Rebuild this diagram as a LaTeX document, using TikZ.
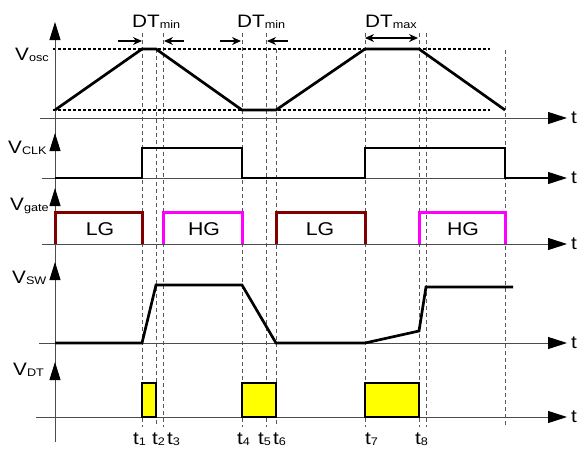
\documentclass[tikz,border=0pt]{standalone}
\usepackage{fontspec}
\setmainfont[FakeStretch=1.15]{Liberation Sans}
\usetikzlibrary{arrows.meta}
\definecolor{lgred}{RGB}{128,0,0}
\definecolor{hgmag}{RGB}{255,0,255}
\definecolor{dtyel}{RGB}{255,255,0}
\newcommand{\lbsub}[1]{\raisebox{-1.2pt}{\fontsize{11}{12}\selectfont #1}}
\begin{document}
\begin{tikzpicture}[x=1pt,y=-1pt,
  lbl/.style={inner sep=0pt, anchor=base west, font=\fontsize{18}{20}\selectfont},
  haxis/.style={line width=1pt, draw=black!70, -{Triangle[length=19pt,width=12pt,color=black]}},
  vaxhead/.style={line width=1pt, draw=black!70, -{Triangle[length=18pt,width=11pt,color=black]}},
  vdash/.style={draw=black!65, line width=0.9pt, dash pattern=on 4pt off 3pt},
  refline/.style={draw=black, line width=1.3pt, dash pattern=on 3pt off 2pt},
  sig/.style={draw=black, line width=2.7pt, line join=miter},
  lgbox/.style={draw=lgred, line width=3pt, line join=miter},
  hgbox/.style={draw=hgmag, line width=3pt, line join=miter},
  dtbox/.style={draw=black, fill=dtyel, line width=1.3pt},
  dimarrow/.style={draw=black, line width=1.3pt, -{Stealth[length=9pt,width=8pt]}},
  dimboth/.style={draw=black, line width=1.3pt, {Stealth[length=9pt,width=8pt]}-{Stealth[length=9pt,width=8pt]}}
]
\useasboundingbox (0,0) rectangle (579,450);

% vertical dashed time markers
\foreach \x/\y in {142/33,156/49,163/33,242/33,266/33,276/49,365/33,419/33,426/33,505/50}
  \draw[vdash] (\x,\y) -- (\x,427);

% Vosc reference levels
\draw[refline] (53,49) -- (490,49);
\draw[refline] (53,110) -- (490,110);

% vertical axis with arrowheads
\draw[vaxhead] (55,442) -- (55,22);
\foreach \tip in {133,188,262,362}
  \draw[vaxhead] (55,\tip+25) -- (55,\tip);

% horizontal axes
\draw[haxis] (40,118) -- (567,118);
\draw[haxis] (42,178) -- (567,178);
\draw[haxis] (42,244) -- (567,244);
\draw[haxis] (39,343) -- (567,343);
\draw[haxis] (36,417) -- (567,417);
\foreach \y [count=\i] in {118,178,244,343,417}
  \node[inner sep=0pt, anchor=west, font=\fontsize{18}{20}\selectfont] (tax\i) at (571,\y) {t};

% axis labels
\node[lbl] (losc) at (15,60) {V\lbsub{osc}};
\node[lbl] (lclk) at (8,153) {V\lbsub{CLK}};
\node[lbl] (lgate) at (10,210) {V\lbsub{gate}};
\node[lbl] (lsw) at (12,283) {V\lbsub{SW}};
\node[lbl] (ldt) at (13,375) {V\lbsub{DT}};

% Vosc waveform
\draw[sig] (55,110) -- (142,49) -- (156,49) -- (242,110) -- (276,110) -- (365,49) -- (419,49) -- (505,110);

% dead-time annotations
\draw[dimarrow] (118,41) -- (142,41);
\draw[dimarrow] (184,41) -- (164,41);
\draw[dimarrow] (220,41) -- (241,41);
\draw[dimarrow] (288,41) -- (267,41);
\draw[dimboth] (365,38) -- (418,38);
\node[lbl] (dt1) at (132,27) {DT\lbsub{min}};
\node[lbl] (dt2) at (237,27) {DT\lbsub{min}};
\node[lbl] (dt3) at (365,27) {DT\lbsub{max}};

% VCLK
\draw[sig] (55,178) -- (142,178) -- (142,148) -- (242,148) -- (242,178) -- (365,178) -- (365,148) -- (505,148) -- (505,178) -- (550,178);

% Vgate
\draw[lgbox] (55,244) -- (55,212) -- (142,212) -- (142,244);
\draw[hgbox] (163,244) -- (163,212) -- (242,212) -- (242,244);
\draw[lgbox] (276,244) -- (276,212) -- (365,212) -- (365,244);
\draw[hgbox] (419,244) -- (419,212) -- (505,212) -- (505,244);
\node[font=\fontsize{18.5}{20}\selectfont, inner sep=0pt] (lg1) at (100,229) {LG};
\node[font=\fontsize{18.5}{20}\selectfont, inner sep=0pt] (hg1) at (204,229) {HG};
\node[font=\fontsize{18.5}{20}\selectfont, inner sep=0pt] (lg2) at (320,229) {LG};
\node[font=\fontsize{18.5}{20}\selectfont, inner sep=0pt] (hg2) at (463,229) {HG};

% VSW
\draw[sig] (55,343) -- (142,343) -- (156,285) -- (242,285) -- (276,343) -- (365,343) -- (419,331) -- (426,287) -- (513,287);

% VDT
\draw[dtbox] (142,417) rectangle (156,383);
\draw[dtbox] (242,417) rectangle (276,383);
\draw[dtbox] (365,417) rectangle (419,383);

% time labels
\node[lbl] (t1) at (133,444) {t\lbsub{1}};
\node[lbl] (t2) at (152,444) {t\lbsub{2}};
\node[lbl] (t3) at (167,444) {t\lbsub{3}};
\node[lbl] (t4) at (237,444) {t\lbsub{4}};
\node[lbl] (t5) at (258,444) {t\lbsub{5}};
\node[lbl] (t6) at (273,444) {t\lbsub{6}};
\node[lbl] (t7) at (365,444) {t\lbsub{7}};
\node[lbl] (t8) at (415,444) {t\lbsub{8}};
\end{tikzpicture}
\end{document}
